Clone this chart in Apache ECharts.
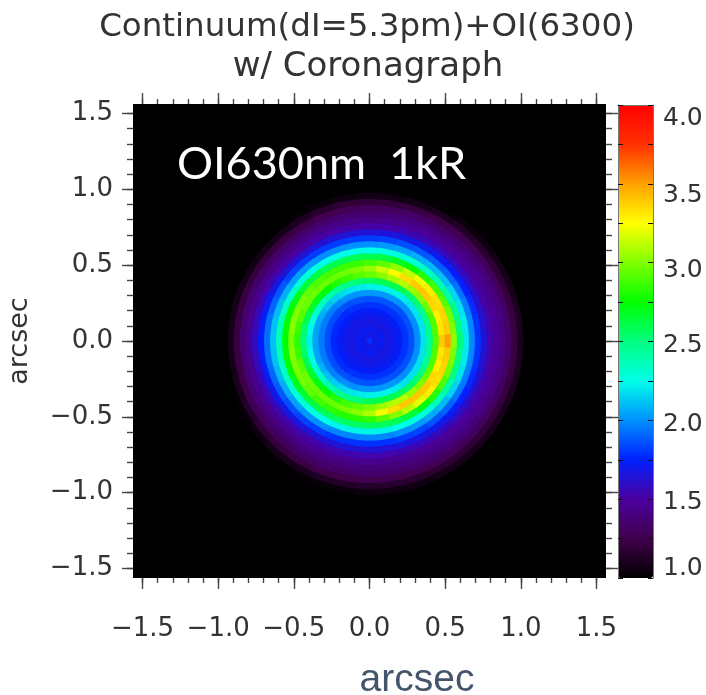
<!DOCTYPE html>
<html><head><meta charset="utf-8">
<style>html,body{margin:0;padding:0;background:#fff}#c{width:706px;height:695px;filter:blur(0.7px)}</style>
<script src="https://cdn.jsdelivr.net/npm/echarts@6/dist/echarts.min.js"></script>
</head><body><div id="c"></div>
<script>
const titleLines = ["Continuum(dI=5.3pm)+OI(6300)", "w/ Coronagraph"];
const annotation = "OI630nm  1kR";
const axisName = "arcsec";
const majorTicks = [-1.5,-1.0,-0.5,0.0,0.5,1.0,1.5];
const minorTicks = [-1.5,-1.4,-1.3,-1.2,-1.1,-1.0,-0.9,-0.8,-0.7,-0.6,-0.5,-0.4,-0.3,-0.2,-0.1,0,0.1,0.2,0.3,0.4,0.5,0.6,0.7,0.8,0.9,1.0,1.1,1.2,1.3,1.4,1.5];
const colorbarTickValues = [0.95,1.2125,1.475,1.7375,2.0,2.2625,2.525,2.7875,3.05,3.3125,3.575,3.8375,4.1];
const colorbarLabelValues = [1.01,1.45,1.97,2.5,3.0,3.5,4.01];
const colorbarLabels = ["1.0","1.5","2.0","2.5","3.0","3.5","4.0"];
const paletteStops = ["#000000","#40004a","#4b00a0","#0020ff","#0090ff","#00ffe8","#00ff80","#00ff00","#80ff00","#ffff00","#ffa000","#ff3000","#ff0000"];
const ringRadii = [0,0.04,0.08,0.12,0.16,0.2,0.24,0.28,0.32,0.36,0.4,0.44,0.48,0.52,0.56,0.6,0.64,0.68,0.72,0.76,0.8,0.84,0.88,0.92,0.96,1.0,1.04];
const sectorAngles = [0,10,20,30,40,50,60,70,80,90,100,110,120,130,140,150,160,170,180,190,200,210,220,230,240,250,260,270,280,290,300,310,320,330,340,350];
const polarValues = [
[1.78,1.68,1.70,1.66,1.68,1.72,1.78,1.85,2.00,2.20,2.48,2.95,3.46,3.58,3.08,2.54,2.22,1.98,1.78,1.62,1.50,1.44,1.38,1.30,1.18,1.06,0.95],
[1.78,1.68,1.70,1.66,1.68,1.72,1.78,1.85,2.00,2.20,2.48,2.95,3.38,3.46,3.05,2.52,2.22,1.98,1.78,1.62,1.50,1.44,1.38,1.30,1.18,1.06,0.95],
[1.78,1.68,1.70,1.66,1.68,1.72,1.78,1.85,2.00,2.20,2.48,2.95,3.36,3.42,3.02,2.50,2.20,1.96,1.76,1.60,1.49,1.43,1.37,1.28,1.16,1.05,0.95],
[1.78,1.68,1.70,1.66,1.68,1.72,1.78,1.85,2.00,2.20,2.48,3.00,3.42,3.40,2.96,2.44,2.17,1.93,1.74,1.59,1.48,1.42,1.36,1.27,1.14,1.03,0.95],
[1.78,1.68,1.70,1.66,1.68,1.72,1.78,1.85,2.00,2.20,2.54,3.06,3.46,3.36,2.92,2.40,2.12,1.90,1.72,1.57,1.47,1.41,1.34,1.25,1.11,1.01,0.95],
[1.78,1.68,1.70,1.66,1.68,1.72,1.78,1.85,2.00,2.22,2.56,3.10,3.46,3.28,2.86,2.36,2.10,1.88,1.70,1.56,1.46,1.40,1.33,1.23,1.09,0.99,0.95],
[1.78,1.68,1.70,1.66,1.68,1.72,1.78,1.86,2.02,2.24,2.62,3.16,3.40,3.18,2.78,2.32,2.07,1.86,1.68,1.54,1.45,1.39,1.31,1.21,1.06,0.97,0.95],
[1.78,1.68,1.70,1.66,1.68,1.72,1.78,1.86,2.02,2.24,2.62,3.12,3.32,3.08,2.72,2.30,2.04,1.84,1.66,1.52,1.44,1.37,1.30,1.18,1.04,0.96,0.95],
[1.78,1.68,1.70,1.66,1.68,1.72,1.78,1.86,2.02,2.24,2.62,3.06,3.20,2.98,2.66,2.28,2.02,1.82,1.64,1.50,1.42,1.35,1.28,1.16,1.02,0.96,0.95],
[1.78,1.68,1.70,1.66,1.68,1.72,1.78,1.86,2.02,2.24,2.58,3.00,3.10,2.93,2.62,2.26,2.00,1.80,1.62,1.49,1.40,1.33,1.26,1.15,1.02,0.96,0.95],
[1.78,1.68,1.70,1.66,1.68,1.72,1.78,1.86,2.02,2.22,2.55,2.96,3.04,2.90,2.62,2.26,2.00,1.80,1.62,1.49,1.40,1.33,1.25,1.14,1.01,0.95,0.95],
[1.78,1.68,1.70,1.66,1.68,1.72,1.78,1.86,2.00,2.20,2.51,2.90,3.02,2.90,2.62,2.26,2.00,1.80,1.62,1.49,1.40,1.32,1.23,1.11,0.99,0.95,0.95],
[1.78,1.68,1.70,1.66,1.68,1.72,1.78,1.85,2.00,2.18,2.47,2.86,3.00,2.92,2.62,2.26,2.00,1.80,1.62,1.49,1.40,1.31,1.20,1.07,0.97,0.95,0.95],
[1.78,1.68,1.70,1.66,1.68,1.72,1.76,1.85,1.98,2.15,2.43,2.80,3.00,2.94,2.64,2.28,2.02,1.80,1.62,1.48,1.39,1.30,1.18,1.04,0.96,0.95,0.95],
[1.78,1.68,1.70,1.66,1.68,1.72,1.76,1.84,1.96,2.12,2.37,2.74,3.00,2.98,2.68,2.30,2.04,1.82,1.63,1.49,1.39,1.30,1.17,1.03,0.95,0.95,0.95],
[1.78,1.68,1.70,1.66,1.68,1.72,1.76,1.84,1.95,2.08,2.33,2.70,3.00,3.03,2.74,2.34,2.07,1.87,1.67,1.51,1.40,1.31,1.17,1.03,0.95,0.95,0.95],
[1.78,1.68,1.70,1.66,1.68,1.72,1.76,1.84,1.95,2.05,2.27,2.63,2.96,3.06,2.79,2.36,2.10,1.90,1.70,1.53,1.41,1.32,1.18,1.03,0.95,0.95,0.95],
[1.78,1.68,1.70,1.66,1.68,1.72,1.76,1.84,1.95,2.05,2.25,2.56,2.90,3.06,2.80,2.38,2.12,1.92,1.72,1.55,1.42,1.33,1.18,1.03,0.95,0.95,0.95],
[1.78,1.68,1.70,1.66,1.68,1.70,1.75,1.85,1.95,2.05,2.23,2.54,2.88,3.03,2.78,2.36,2.12,1.92,1.72,1.56,1.42,1.33,1.18,1.03,0.95,0.95,0.95],
[1.78,1.68,1.70,1.66,1.68,1.72,1.76,1.84,1.95,2.05,2.25,2.56,2.90,3.06,2.80,2.38,2.12,1.92,1.72,1.55,1.42,1.33,1.19,1.04,0.95,0.95,0.95],
[1.78,1.68,1.70,1.66,1.68,1.72,1.76,1.84,1.95,2.05,2.27,2.63,2.96,3.06,2.78,2.36,2.10,1.90,1.70,1.54,1.42,1.34,1.21,1.06,0.96,0.95,0.95],
[1.78,1.68,1.70,1.66,1.68,1.72,1.76,1.84,1.95,2.08,2.33,2.70,3.00,3.03,2.74,2.34,2.07,1.87,1.68,1.53,1.42,1.35,1.24,1.10,0.98,0.95,0.95],
[1.78,1.68,1.70,1.66,1.68,1.72,1.76,1.84,1.96,2.12,2.37,2.74,3.00,2.98,2.68,2.30,2.04,1.84,1.66,1.52,1.42,1.35,1.26,1.14,1.00,0.95,0.95],
[1.78,1.68,1.70,1.66,1.68,1.72,1.76,1.85,1.98,2.15,2.43,2.80,3.00,2.92,2.64,2.28,2.02,1.82,1.64,1.51,1.42,1.35,1.27,1.17,1.03,0.96,0.95],
[1.78,1.68,1.70,1.66,1.68,1.72,1.78,1.85,2.00,2.18,2.47,2.86,3.00,2.88,2.60,2.26,2.00,1.80,1.62,1.51,1.42,1.36,1.29,1.19,1.05,0.97,0.95],
[1.78,1.68,1.70,1.66,1.68,1.72,1.78,1.86,2.00,2.20,2.51,2.92,3.02,2.86,2.58,2.24,1.98,1.78,1.62,1.51,1.42,1.36,1.30,1.21,1.07,0.98,0.95],
[1.78,1.68,1.70,1.66,1.68,1.72,1.78,1.86,2.02,2.22,2.55,2.98,3.06,2.86,2.58,2.24,1.98,1.78,1.62,1.51,1.42,1.36,1.30,1.22,1.09,0.99,0.95],
[1.78,1.68,1.70,1.66,1.68,1.72,1.78,1.86,2.02,2.24,2.62,3.03,3.14,2.88,2.58,2.24,1.98,1.78,1.62,1.51,1.42,1.36,1.31,1.23,1.10,1.00,0.95],
[1.78,1.68,1.70,1.66,1.68,1.72,1.78,1.86,2.02,2.24,2.64,3.10,3.30,2.96,2.60,2.24,1.98,1.78,1.62,1.51,1.42,1.36,1.31,1.23,1.11,1.01,0.95],
[1.78,1.68,1.70,1.66,1.68,1.72,1.78,1.86,2.02,2.24,2.64,3.16,3.40,3.06,2.62,2.26,2.00,1.80,1.64,1.52,1.43,1.37,1.32,1.24,1.12,1.02,0.95],
[1.78,1.68,1.70,1.66,1.68,1.72,1.78,1.86,2.02,2.22,2.62,3.16,3.46,3.16,2.68,2.28,2.02,1.82,1.66,1.54,1.44,1.38,1.33,1.25,1.13,1.03,0.95],
[1.78,1.68,1.70,1.66,1.68,1.72,1.78,1.85,2.00,2.20,2.56,3.10,3.46,3.26,2.76,2.32,2.06,1.86,1.68,1.56,1.46,1.40,1.34,1.26,1.14,1.04,0.95],
[1.78,1.68,1.70,1.66,1.68,1.72,1.78,1.85,2.00,2.20,2.54,3.04,3.46,3.36,2.86,2.38,2.10,1.90,1.72,1.58,1.48,1.42,1.36,1.27,1.15,1.05,0.95],
[1.78,1.68,1.70,1.66,1.68,1.72,1.78,1.85,2.00,2.20,2.50,2.98,3.42,3.40,2.94,2.44,2.16,1.94,1.74,1.60,1.49,1.43,1.37,1.28,1.16,1.05,0.95],
[1.78,1.68,1.70,1.66,1.68,1.72,1.78,1.85,2.00,2.20,2.48,2.95,3.36,3.42,3.02,2.50,2.20,1.96,1.76,1.61,1.50,1.44,1.38,1.29,1.17,1.06,0.95],
[1.78,1.68,1.70,1.66,1.68,1.72,1.78,1.85,2.00,2.20,2.48,2.95,3.38,3.46,3.05,2.52,2.22,1.98,1.78,1.62,1.50,1.44,1.38,1.30,1.18,1.06,0.95]
];

const cells = [];
sectorAngles.forEach((a, i) => ringRadii.forEach((r, j) => cells.push([a, r, polarValues[i][j]])));

const TICK = '#444';
const halfBand = 0.02, halfAngle = 5;
function renderSector(params, api) {
  const a = api.value(0), r = api.value(1);
  const r0 = Math.max(0, r - halfBand), r1 = r + halfBand;
  const pts = [];
  for (let k = 0; k <= 4; k++) {
    const t = (a - halfAngle + k * halfAngle / 2) * Math.PI / 180;
    pts.push(api.coord([r1 * Math.cos(t), r1 * Math.sin(t)]));
  }
  for (let k = 4; k >= 0; k--) {
    const t = (a - halfAngle + k * halfAngle / 2) * Math.PI / 180;
    pts.push(api.coord([r0 * Math.cos(t), r0 * Math.sin(t)]));
  }
  const c = api.visual('color');
  return { type: 'polygon', shape: { points: pts }, style: { fill: c, stroke: c, lineWidth: 0.8 } };
}
const FONT = 'DejaVu Sans';
const TEXT = '#333';
const lim = 1.563;
function mainAxis(pos, values, len, labels) {
  return {
    type: 'value', position: pos, min: -lim, max: lim, gridIndex: 0,
    axisLine: { show: false, onZero: false }, splitLine: { show: false },
    axisTick: { show: true, length: len, customValues: values, lineStyle: { color: TICK, width: 1.4 } },
    axisLabel: labels ? {
      show: true, customValues: majorTicks, fontFamily: FONT, fontSize: 26, color: TEXT,
      margin: labels.margin, padding: labels.padding,
      formatter: v => v.toFixed(1).replace('-', '\u2212')
    } : { show: false }
  };
}
function barLine(pos) {
  return { type: 'value', gridIndex: 1, position: pos, min: 0, max: 1, z: 10,
    axisLine: { show: pos === 'top', onZero: false, lineStyle: { color: '#777' } },
    axisTick: { show: false }, axisLabel: { show: false }, splitLine: { show: false } };
}
function barAxis(pos, labelled) {
  return { type: 'value', gridIndex: 1, position: pos, min: 0.95, max: 4.1, z: 10,
    axisLine: { show: true, onZero: false, lineStyle: { color: '#777' } }, splitLine: { show: false },
    axisTick: { show: true, inside: true, length: 5, customValues: colorbarTickValues, lineStyle: { color: '#111' } },
    axisLabel: labelled ? { show: true, customValues: colorbarLabelValues, margin: 10, fontFamily: FONT, fontSize: 25, color: TEXT,
      formatter: v => colorbarLabels[colorbarLabelValues.indexOf(v)] } : { show: false } };
}
const option = {
  animation: false,
  backgroundColor: '#fff',
  grid: [
    { left: 133, top: 104, width: 473, height: 474, show: true, backgroundColor: '#000', borderWidth: 0, outerBoundsMode: 'none' },
    { left: 618, top: 105, width: 35, height: 473, show: false, outerBoundsMode: 'none' }
  ],
  xAxis: [
    mainAxis('bottom', majorTicks, 11, { margin: 38 }),
    mainAxis('bottom', minorTicks, 5),
    mainAxis('top', majorTicks, 11),
    mainAxis('top', minorTicks, 5),
    barLine('top')
  ],
  yAxis: [
    Object.assign(mainAxis('left', majorTicks, 11, { margin: 20, padding: [10, 0, 0, 0] }), {
      name: axisName, nameLocation: 'middle', nameGap: 100, nameRotate: 90,
      nameTextStyle: { fontFamily: FONT, fontSize: 27, color: TEXT }
    }),
    mainAxis('left', minorTicks, 6),
    mainAxis('right', majorTicks, 12),
    mainAxis('right', minorTicks, 6),
    barAxis('left', false),
    barAxis('right', true)
  ],
  visualMap: [{ show: true, type: 'continuous', min: 0.95, max: 4.1, dimension: 2, seriesIndex: [0], calculable: false, realtime: false,
    left: 618, top: 105, itemWidth: 35, itemHeight: 473, padding: 0, text: null, textGap: 0, showLabel: false,
    inRange: { color: paletteStops } }],
  series: [
    { type: 'custom', coordinateSystem: 'cartesian2d', xAxisIndex: 0, yAxisIndex: 0, silent: true, clip: true,
      encode: { x: 0, y: 1 }, renderItem: renderSector, data: cells }
  ],
  graphic: [
    { type: 'text', x: 367, y: 11, style: { text: titleLines[0], textAlign: 'center', font: '32.5px "' + FONT + '"', fill: TEXT } },
    { type: 'text', x: 368, y: 50, style: { text: titleLines[1], textAlign: 'center', font: '34px "' + FONT + '"', fill: TEXT } },
    { type: 'text', x: 177, y: 142, z: 50, style: { text: annotation, font: '45px Lato', fill: '#fff' } },
    { type: 'text', x: 417, y: 661, style: { text: axisName, textAlign: 'center', font: '39px "Liberation Sans"', fill: '#44546a' } }
  ]
};
echarts.init(document.getElementById('c'), null, { renderer: 'canvas' }).setOption(option);
</script></body></html>
